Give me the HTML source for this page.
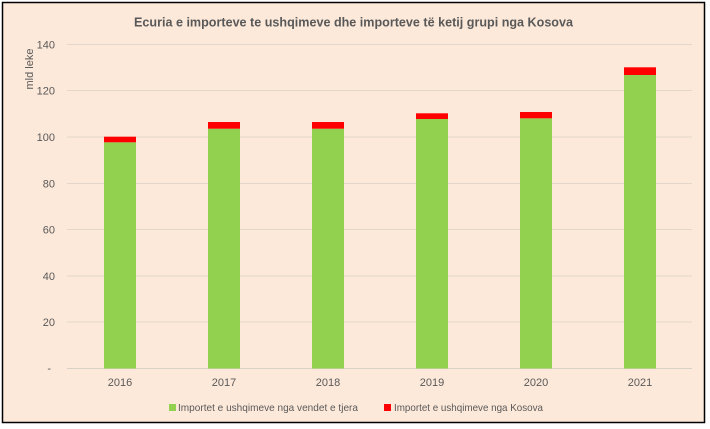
<!DOCTYPE html>
<html>
<head>
<meta charset="utf-8">
<style>
  html,body{margin:0;padding:0;background:#ffffff;}
  svg{display:block;}
  text{font-family:"Liberation Sans", sans-serif;fill:#595959;}
</style>
</head>
<body>
<svg width="710" height="429" viewBox="0 0 710 429" xmlns="http://www.w3.org/2000/svg">
  <rect x="0" y="0" width="710" height="429" fill="#ffffff"/>
  <rect x="2.5" y="2.5" width="702" height="420" fill="#FDE9DA" stroke="#000000" stroke-width="1.5"/>

  <!-- Title -->
  <text x="134" y="26.5" font-size="12.5" font-weight="bold" textLength="439" lengthAdjust="spacingAndGlyphs">Ecuria e importeve te ushqimeve dhe importeve të ketij grupi nga Kosova</text>

  <!-- Gridlines -->
  <g stroke="#E3D6CB" stroke-width="1">
    <line x1="67" y1="44.5" x2="692" y2="44.5"/>
    <line x1="67" y1="90.5" x2="692" y2="90.5"/>
    <line x1="67" y1="137" x2="692" y2="137"/>
    <line x1="67" y1="183.5" x2="692" y2="183.5"/>
    <line x1="67" y1="229.5" x2="692" y2="229.5"/>
    <line x1="67" y1="276" x2="692" y2="276"/>
    <line x1="67" y1="322" x2="692" y2="322"/>
  </g>
  <line x1="67" y1="368.5" x2="692" y2="368.5" stroke="#D9D0C8" stroke-width="1"/>

  <!-- Y labels -->
  <g font-size="11" text-anchor="end">
    <text x="55" y="48.5">140</text>
    <text x="55" y="94.5">120</text>
    <text x="55" y="141">100</text>
    <text x="55" y="187.5">80</text>
    <text x="55" y="233.5">60</text>
    <text x="55" y="280">40</text>
    <text x="55" y="326">20</text>
    <text x="51" y="372">-</text>
  </g>

  <!-- Y axis title -->
  <text x="0" y="0" font-size="11" text-anchor="middle" transform="translate(33,69) rotate(-90)">mld leke</text>

  <!-- Bars -->
  <!-- 2016 -->
  <rect x="104" y="142.3" width="32" height="226.2" fill="#92D050"/>
  <rect x="104" y="136.7" width="32" height="5.6" fill="#FF0000"/>
  <!-- 2017 -->
  <rect x="208" y="128.7" width="32" height="239.8" fill="#92D050"/>
  <rect x="208" y="122" width="32" height="6.7" fill="#FF0000"/>
  <!-- 2018 -->
  <rect x="312" y="128.7" width="32" height="239.8" fill="#92D050"/>
  <rect x="312" y="122" width="32" height="6.7" fill="#FF0000"/>
  <!-- 2019 -->
  <rect x="416" y="119" width="32" height="249.5" fill="#92D050"/>
  <rect x="416" y="113.3" width="32" height="5.7" fill="#FF0000"/>
  <!-- 2020 -->
  <rect x="520" y="118.3" width="32" height="250.2" fill="#92D050"/>
  <rect x="520" y="112" width="32" height="6.3" fill="#FF0000"/>
  <!-- 2021 -->
  <rect x="624" y="75" width="32" height="293.5" fill="#92D050"/>
  <rect x="624" y="67.3" width="32" height="7.7" fill="#FF0000"/>

  <!-- X labels -->
  <g font-size="11" text-anchor="middle">
    <text x="120" y="386">2016</text>
    <text x="224" y="386">2017</text>
    <text x="328" y="386">2018</text>
    <text x="432" y="386">2019</text>
    <text x="536" y="386">2020</text>
    <text x="640" y="386">2021</text>
  </g>

  <!-- Legend -->
  <rect x="169" y="404" width="7" height="7" fill="#92D050"/>
  <text x="178" y="411" font-size="10.5" textLength="180" lengthAdjust="spacingAndGlyphs">Importet e ushqimeve nga vendet e tjera</text>
  <rect x="384" y="404" width="7" height="7" fill="#FF0000"/>
  <text x="394" y="411" font-size="10.5" textLength="149" lengthAdjust="spacingAndGlyphs">Importet e ushqimeve nga Kosova</text>
</svg>
</body>
</html>
